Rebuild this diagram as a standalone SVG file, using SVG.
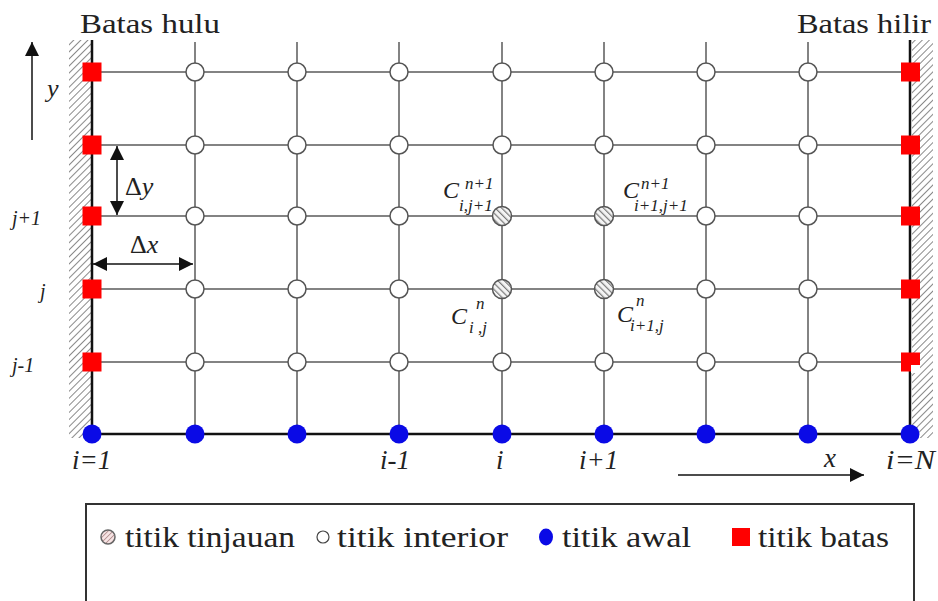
<svg xmlns="http://www.w3.org/2000/svg" width="938" height="601" viewBox="0 0 938 601" font-family="'Liberation Serif', 'Times New Roman', 'DejaVu Serif', serif">
<style>
text{font-family:'Liberation Serif','Times New Roman','DejaVu Serif',serif}
.t{fill:#222}
.it{font-style:italic;fill:#222}
.grid{stroke:#5a5a5a;stroke-width:1.5;fill:none}
.wall{stroke:#111;stroke-width:2.5}
.int{fill:#fff;stroke:#555;stroke-width:1.5}
.hat{fill:url(#nodeHatch);stroke:#555;stroke-width:1.5}
.awal{fill:#0a0ae6}
.bts{fill:#f00}
.arr{stroke:#111;stroke-width:1.5;fill:none}
</style>
<defs>
<pattern id="wallHatch" patternUnits="userSpaceOnUse" width="5" height="5" patternTransform="rotate(45)">
<rect width="5" height="5" fill="#fff"/>
<line x1="0" y1="0" x2="0" y2="5" stroke="#8a8a8a" stroke-width="2"/>
</pattern>
<pattern id="nodeHatch" patternUnits="userSpaceOnUse" width="4.5" height="4.5" patternTransform="rotate(-45)">
<rect width="4.5" height="4.5" fill="#f4f4f4"/>
<line x1="0" y1="0" x2="0" y2="4.5" stroke="#7a7a7a" stroke-width="2.4"/>
</pattern>
<pattern id="legHatch" patternUnits="userSpaceOnUse" width="3.5" height="3.5" patternTransform="rotate(45)">
<rect width="3.5" height="3.5" fill="#f6e4e4"/>
<line x1="0" y1="0" x2="0" y2="3.5" stroke="#b08a8a" stroke-width="1.6"/>
</pattern>
<marker id="ahBig" viewBox="0 0 10 10" refX="10" refY="5" markerWidth="14" markerHeight="14" markerUnits="userSpaceOnUse" orient="auto-start-reverse">
<path d="M0,0 L10,5 L0,10 Z" fill="#111"/>
</marker>
</defs>
<rect width="938" height="601" fill="#fff"/>

<g id="walls">
<rect x="69" y="40" width="22" height="398" fill="url(#wallHatch)"/>
<rect x="912" y="40" width="21" height="398" fill="url(#wallHatch)"/>
</g>

<g id="connectors">
<g class="grid">
<line x1="92" y1="72" x2="910" y2="72"/>
<line x1="92" y1="145" x2="910" y2="145"/>
<line x1="92" y1="216" x2="910" y2="216"/>
<line x1="92" y1="289" x2="910" y2="289"/>
<line x1="92" y1="362" x2="910" y2="362"/>
<line x1="195" y1="42" x2="195" y2="434"/>
<line x1="297" y1="42" x2="297" y2="434"/>
<line x1="399" y1="42" x2="399" y2="434"/>
<line x1="502" y1="42" x2="502" y2="434"/>
<line x1="604" y1="42" x2="604" y2="434"/>
<line x1="706" y1="42" x2="706" y2="434"/>
<line x1="808" y1="42" x2="808" y2="434"/>
</g>
<line class="wall" x1="92" y1="40" x2="92" y2="435"/>
<line class="wall" x1="910" y1="40" x2="910" y2="435"/>
<line class="wall" x1="91" y1="434" x2="911" y2="434"/>
<line class="arr" x1="32" y1="140" x2="32" y2="42" marker-end="url(#ahBig)"/>
<line class="arr" x1="117" y1="146" x2="117" y2="215" marker-start="url(#ahBig)" marker-end="url(#ahBig)"/>
<line class="arr" x1="93" y1="264" x2="193" y2="264" marker-start="url(#ahBig)" marker-end="url(#ahBig)"/>
<line class="arr" x1="678" y1="475" x2="864" y2="475" marker-end="url(#ahBig)"/>
</g>

<g id="nodes-batas">
<g id="b-L1"><rect class="bts" x="82.5" y="62.5" width="19" height="19"/></g>
<g id="b-L2"><rect class="bts" x="82.5" y="135.5" width="19" height="19"/></g>
<g id="b-L3"><rect class="bts" x="82.5" y="206.5" width="19" height="19"/></g>
<g id="b-L4"><rect class="bts" x="82.5" y="279.5" width="19" height="19"/></g>
<g id="b-L5"><rect class="bts" x="82.5" y="352.5" width="19" height="19"/></g>
<g id="b-R1"><rect class="bts" x="901" y="62.5" width="19" height="19"/></g>
<g id="b-R2"><rect class="bts" x="901" y="135.5" width="19" height="19"/></g>
<g id="b-R3"><rect class="bts" x="901" y="206.5" width="19" height="19"/></g>
<g id="b-R4"><rect class="bts" x="901" y="279.5" width="19" height="19"/></g>
<g id="b-R5"><rect class="bts" x="901" y="352.5" width="19" height="19"/><rect x="911" y="365" width="9" height="8" fill="#fff"/></g>
</g>

<g id="nodes-awal">
<g id="a1"><circle class="awal" cx="92" cy="434" r="9.5"/></g>
<g id="a2"><circle class="awal" cx="195" cy="434" r="9.5"/></g>
<g id="a3"><circle class="awal" cx="297" cy="434" r="9.5"/></g>
<g id="a4"><circle class="awal" cx="399" cy="434" r="9.5"/></g>
<g id="a5"><circle class="awal" cx="502" cy="434" r="9.5"/></g>
<g id="a6"><circle class="awal" cx="604" cy="434" r="9.5"/></g>
<g id="a7"><circle class="awal" cx="706" cy="434" r="9.5"/></g>
<g id="a8"><circle class="awal" cx="808" cy="434" r="9.5"/></g>
<g id="a9"><circle class="awal" cx="910" cy="434" r="9.5"/></g>
</g>

<g id="nodes-interior">
<g id="n2-1"><circle class="int" cx="195" cy="72" r="9"/></g>
<g id="n3-1"><circle class="int" cx="297" cy="72" r="9"/></g>
<g id="n4-1"><circle class="int" cx="399" cy="72" r="9"/></g>
<g id="n5-1"><circle class="int" cx="502" cy="72" r="9"/></g>
<g id="n6-1"><circle class="int" cx="604" cy="72" r="9"/></g>
<g id="n7-1"><circle class="int" cx="706" cy="72" r="9"/></g>
<g id="n8-1"><circle class="int" cx="808" cy="72" r="9"/></g>
<g id="n2-2"><circle class="int" cx="195" cy="145" r="9"/></g>
<g id="n3-2"><circle class="int" cx="297" cy="145" r="9"/></g>
<g id="n4-2"><circle class="int" cx="399" cy="145" r="9"/></g>
<g id="n5-2"><circle class="int" cx="502" cy="145" r="9"/></g>
<g id="n6-2"><circle class="int" cx="604" cy="145" r="9"/></g>
<g id="n7-2"><circle class="int" cx="706" cy="145" r="9"/></g>
<g id="n8-2"><circle class="int" cx="808" cy="145" r="9"/></g>
<g id="n2-3"><circle class="int" cx="195" cy="216" r="9"/></g>
<g id="n3-3"><circle class="int" cx="297" cy="216" r="9"/></g>
<g id="n4-3"><circle class="int" cx="399" cy="216" r="9"/></g>
<g id="n7-3"><circle class="int" cx="706" cy="216" r="9"/></g>
<g id="n8-3"><circle class="int" cx="808" cy="216" r="9"/></g>
<g id="n2-4"><circle class="int" cx="195" cy="289" r="9"/></g>
<g id="n3-4"><circle class="int" cx="297" cy="289" r="9"/></g>
<g id="n4-4"><circle class="int" cx="399" cy="289" r="9"/></g>
<g id="n7-4"><circle class="int" cx="706" cy="289" r="9"/></g>
<g id="n8-4"><circle class="int" cx="808" cy="289" r="9"/></g>
<g id="n2-5"><circle class="int" cx="195" cy="362" r="9"/></g>
<g id="n3-5"><circle class="int" cx="297" cy="362" r="9"/></g>
<g id="n4-5"><circle class="int" cx="399" cy="362" r="9"/></g>
<g id="n5-5"><circle class="int" cx="502" cy="362" r="9"/></g>
<g id="n6-5"><circle class="int" cx="604" cy="362" r="9"/></g>
<g id="n7-5"><circle class="int" cx="706" cy="362" r="9"/></g>
<g id="n8-5"><circle class="int" cx="808" cy="362" r="9"/></g>
</g>

<g id="nodes-tinjauan">
<g id="c-i-j1"><circle class="hat" cx="502" cy="216" r="9.5"/>
<text class="it" x="443" y="198" font-size="24">C</text>
<text class="it" x="465" y="189" font-size="17">n+1</text>
<text class="it" x="459" y="211" font-size="17">i,j+1</text></g>
<g id="c-i1-j1"><circle class="hat" cx="604" cy="216" r="9.5"/>
<text class="it" x="623" y="198" font-size="24">C</text>
<text class="it" x="641" y="189" font-size="17">n+1</text>
<text class="it" x="634" y="211" font-size="17">i+1,j+1</text></g>
<g id="c-i-j"><circle class="hat" cx="502" cy="289" r="9.5"/>
<text class="it" x="451" y="324" font-size="24">C</text>
<text class="it" x="476" y="309" font-size="17">n</text>
<text class="it" x="469" y="333" font-size="17">i ,j</text></g>
<g id="c-i1-j"><circle class="hat" cx="604" cy="289" r="9.5"/>
<text class="it" x="617" y="322" font-size="24">C</text>
<text class="it" x="636" y="306" font-size="17">n</text>
<text class="it" x="630" y="331" font-size="17">i+1,j</text></g>
</g>

<g id="labels">
<text class="t" x="80" y="33" font-size="27" textLength="140" lengthAdjust="spacingAndGlyphs">Batas hulu</text>
<text class="t" x="797" y="33" font-size="27" textLength="134" lengthAdjust="spacingAndGlyphs">Batas hilir</text>
<text class="it" x="47" y="97" font-size="26">y</text>
<text x="125" y="195" font-size="26" class="t">Δ<tspan class="it">y</tspan></text>
<text x="130" y="253" font-size="26" class="t">Δ<tspan class="it">x</tspan></text>
<text class="it" x="12" y="225" font-size="20">j+1</text>
<text class="it" x="40" y="298" font-size="20">j</text>
<text class="it" x="12" y="372" font-size="20">j-1</text>
<text class="it" x="72" y="469" font-size="27">i<tspan class="t">=1</tspan></text>
<text class="it" x="380" y="469" font-size="27">i-1</text>
<text class="it" x="496" y="469" font-size="27">i</text>
<text class="it" x="579" y="469" font-size="27">i+1</text>
<text class="it" x="824" y="467" font-size="27">x</text>
<text class="it" x="886" y="469" font-size="27" textLength="49" lengthAdjust="spacingAndGlyphs">i=N</text>
</g>

<g id="legend">
<rect x="86" y="504" width="828" height="110" fill="none" stroke="#333" stroke-width="2"/>
<circle cx="108" cy="537" r="7" fill="url(#legHatch)" stroke="#666" stroke-width="1.5"/>
<text class="t" x="125" y="547" font-size="29" textLength="170" lengthAdjust="spacingAndGlyphs">titik tinjauan</text>
<circle cx="323" cy="537" r="6" fill="#fff" stroke="#444" stroke-width="1.2"/>
<text class="t" x="337" y="547" font-size="29" textLength="171" lengthAdjust="spacingAndGlyphs">titik interior</text>
<ellipse cx="546" cy="537" rx="7" ry="8.5" fill="#0a0ae6"/>
<text class="t" x="562" y="547" font-size="29" textLength="129" lengthAdjust="spacingAndGlyphs">titik awal</text>
<rect x="732" y="528" width="18" height="18" fill="#f00"/>
<text class="t" x="758" y="547" font-size="29" textLength="131" lengthAdjust="spacingAndGlyphs">titik batas</text>
</g>
</svg>
